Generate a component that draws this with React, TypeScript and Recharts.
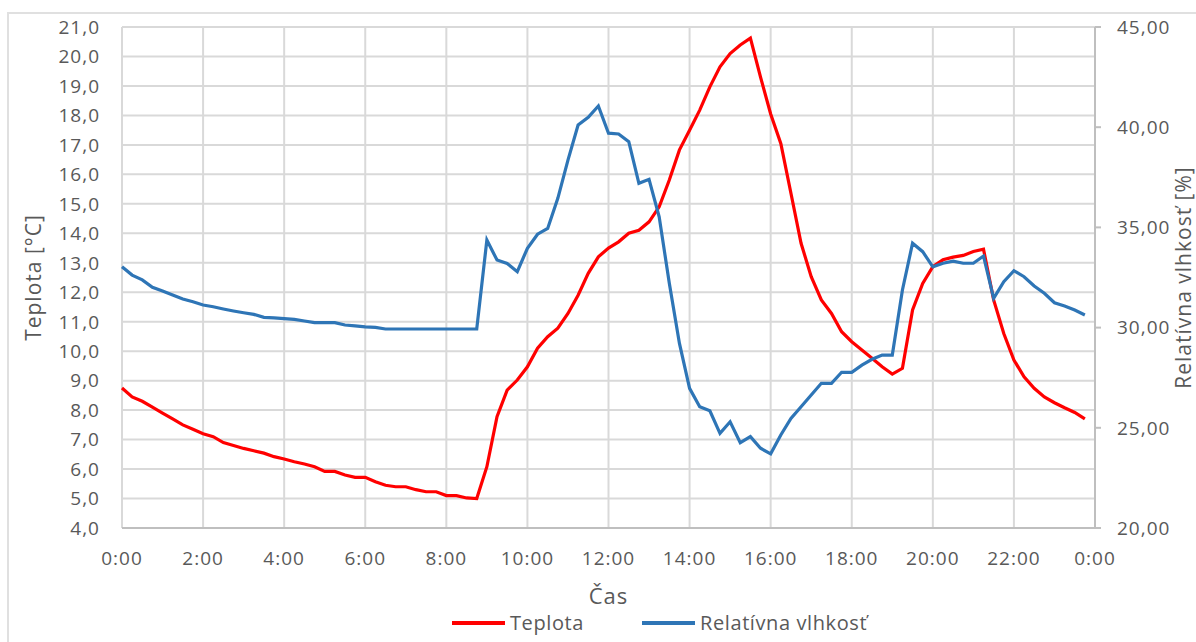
import React from 'react';
import { LineChart, Line, XAxis, YAxis, CartesianGrid, Legend, Label } from 'recharts';

// ---- data (15-minute samples, 0:00 .. 23:45) ----
const TEPLOTA = [
  8.75, 8.45, 8.3, 8.1, 7.9, 7.7, 7.5, 7.35,
  7.2, 7.1, 6.9, 6.8, 6.7, 6.62, 6.54, 6.42,
  6.34, 6.25, 6.17, 6.08, 5.92, 5.92, 5.8, 5.72,
  5.72, 5.57, 5.45, 5.4, 5.4, 5.3, 5.23, 5.23,
  5.1, 5.1, 5.02, 5.0, 6.08, 7.78, 8.68, 9.02,
  9.47, 10.1, 10.49, 10.78, 11.28, 11.9, 12.64, 13.2,
  13.5, 13.71, 14.0, 14.1, 14.39, 14.9, 15.81, 16.83,
  17.5, 18.18, 18.97, 19.65, 20.1, 20.39, 20.62, 19.3,
  18.05, 17.05, 15.36, 13.66, 12.53, 11.74, 11.28, 10.66,
  10.32, 10.04, 9.76, 9.47, 9.22, 9.42, 11.4, 12.3,
  12.87, 13.1, 13.19, 13.25, 13.38, 13.46, 11.74, 10.6,
  9.7, 9.13, 8.74, 8.45, 8.25, 8.08, 7.92, 7.7,
];

const VLHKOST = [
  33.04, 32.62, 32.38, 32.01, 31.83, 31.63, 31.43, 31.29,
  31.13, 31.04, 30.93, 30.83, 30.74, 30.66, 30.51, 30.49,
  30.45, 30.41, 30.33, 30.25, 30.25, 30.25, 30.13, 30.09,
  30.04, 30.01, 29.93, 29.93, 29.93, 29.93, 29.93, 29.93,
  29.93, 29.93, 29.93, 29.93, 34.37, 33.37, 33.2, 32.79,
  33.96, 34.66, 34.95, 36.45, 38.36, 40.11, 40.49, 41.06,
  39.7, 39.66, 39.28, 37.2, 37.4, 35.53, 32.21, 29.21,
  26.97, 26.05, 25.85, 24.72, 25.3, 24.26, 24.56, 23.98,
  23.7, 24.64, 25.47, 26.05, 26.64, 27.22, 27.22, 27.77,
  27.77, 28.13, 28.42, 28.63, 28.63, 31.88, 34.21, 33.79,
  33.03, 33.21, 33.32, 33.21, 33.21, 33.57, 31.46, 32.29,
  32.84, 32.54, 32.08, 31.71, 31.24, 31.08, 30.88, 30.63,
];

const SAMPLE_MINUTES = 15;
const X_TICKS = [0, 2, 4, 6, 8, 10, 12, 14, 16, 18, 20, 22, 24];
const X_TICK_LABELS = ['0:00', '2:00', '4:00', '6:00', '8:00', '10:00', '12:00', '14:00', '16:00', '18:00', '20:00', '22:00', '0:00'];
const LEFT_TICKS = [4, 5, 6, 7, 8, 9, 10, 11, 12, 13, 14, 15, 16, 17, 18, 19, 20, 21];
const RIGHT_TICKS = [20, 25, 30, 35, 40, 45];

const SERIES = [
  { key: 't', name: 'Teplota', color: '#ff0000', axis: 'left' },
  { key: 'rh', name: 'Relatívna vlhkosť', color: '#2e75b6', axis: 'right' },
];

const data = TEPLOTA.map((t, i) => ({ h: (i * SAMPLE_MINUTES) / 60, t, rh: VLHKOST[i] }));

// ---- styles ----
const FONT = '"Open Sans", "Noto Sans", sans-serif';
const TEXT = '#595959';
const GRID = '#d9d9d9';
const AXIS = '#bfbfbf';

const makeTick = (anchor: string, dy: number, fmt: (v: number) => string) => (props: any) => {
  const { x, y, payload } = props;
  return (
    <text x={x} y={y} dy={dy} textAnchor={anchor} fill={TEXT} fontSize={19} fontFamily={FONT} letterSpacing={1}>
      {fmt(payload.value)}
    </text>
  );
};

const xLabel = (v: number) => X_TICK_LABELS[X_TICKS.indexOf(v)] ?? '';
const leftFmt = (v: number) => v.toFixed(1).replace('.', ',');
const rightFmt = (v: number) => v.toFixed(2).replace('.', ',');

const RotTitle = (text: string, dxFromAxisLeft: number) => (props: any) => {
  const vb = props.viewBox || {};
  const cx = vb.x + dxFromAxisLeft;
  const cy = vb.y + vb.height / 2;
  return (
    <text
      x={cx}
      y={cy}
      dy="0.36em"
      textAnchor="middle"
      transform={`rotate(-90, ${cx}, ${cy})`}
      fill={TEXT}
      fontSize={21}
      fontFamily={FONT}
      letterSpacing={1}
    >
      {text}
    </text>
  );
};

const XTitle = (props: any) => {
  const vb = props.viewBox || {};
  return (
    <text x={vb.x + vb.width / 2} y={vb.y + 76} textAnchor="middle" fill={TEXT} fontSize={22} fontFamily={FONT} letterSpacing={1}>
      Čas
    </text>
  );
};

const LEGEND_STARTS = [452, 642];

const LegendContent = () => (
  <div style={{ position: 'relative', width: 1196, height: 30, fontFamily: FONT, fontSize: 20, color: TEXT, letterSpacing: 0.6 }}>
    {SERIES.map((s, i) => (
      <div
        key={s.key}
        style={{ position: 'absolute', left: LEGEND_STARTS[i], top: 0, height: 22, display: 'flex', alignItems: 'center', whiteSpace: 'nowrap' }}
      >
        <span style={{ display: 'inline-block', width: 53, height: 4, background: s.color, marginRight: 5 }} />
        <span style={{ lineHeight: '22px' }}>{s.name}</span>
      </div>
    ))}
  </div>
);

export default function App() {
  return (
    <div style={{ position: 'fixed', left: 0, top: 0, width: 1196, height: 642, overflow: 'hidden', background: '#ffffff' }}>
      <div
        style={{
          position: 'absolute',
          left: 7,
          top: 12,
          width: 1400,
          height: 900,
          borderLeft: `2px solid #e0e0e0`,
          borderTop: `2px solid #e0e0e0`,
        }}
      />
      <div style={{ position: 'absolute', left: 0, top: 0 }}>
        <LineChart width={1196} height={642} data={data} margin={{ top: 27, right: 0, bottom: 0, left: 0 }}>
          <CartesianGrid xAxisId="x" yAxisId="left" stroke={GRID} strokeWidth={2} />
          <XAxis
            xAxisId="x"
            dataKey="h"
            type="number"
            domain={[0, 24]}
            ticks={X_TICKS}
            interval={0}
            height={84}
            tickSize={0}
            tickMargin={0}
            axisLine={{ stroke: AXIS, strokeWidth: 2 }}
            tickLine={false}
            tick={makeTick('middle', 37, xLabel)}
          >
            <Label content={XTitle} />
          </XAxis>
          <YAxis
            yAxisId="left"
            orientation="left"
            width={122}
            domain={[4, 21]}
            ticks={LEFT_TICKS}
            interval={0}
            tickSize={0}
            tickMargin={22}
            axisLine={false}
            tickLine={false}
            tick={makeTick('end', 6.8, leftFmt)}
          >
            <Label content={RotTitle('Teplota [°C]', 33)} />
          </YAxis>
          <YAxis
            yAxisId="right"
            orientation="right"
            width={101}
            domain={[20, 45]}
            ticks={RIGHT_TICKS}
            interval={0}
            tickSize={6}
            tickMargin={16}
            axisLine={{ stroke: AXIS, strokeWidth: 2 }}
            tickLine={{ stroke: AXIS, strokeWidth: 2 }}
            tick={makeTick('start', 6.8, rightFmt)}
          >
            <Label content={RotTitle('Relatívna vlhkosť [%]', 88)} />
          </YAxis>
          {SERIES.map((s) => (
            <Line
              key={s.key}
              xAxisId="x"
              yAxisId={s.axis}
              dataKey={s.key}
              name={s.name}
              type="linear"
              stroke={s.color}
              strokeWidth={3.2}
              dot={false}
              activeDot={false}
              isAnimationActive={false}
            />
          ))}
          <Legend
            verticalAlign="bottom"
            align="left"
            content={LegendContent}
            wrapperStyle={{ left: 0, bottom: 0, width: 1196, height: 30 }}
          />
        </LineChart>
      </div>
    </div>
  );
}
